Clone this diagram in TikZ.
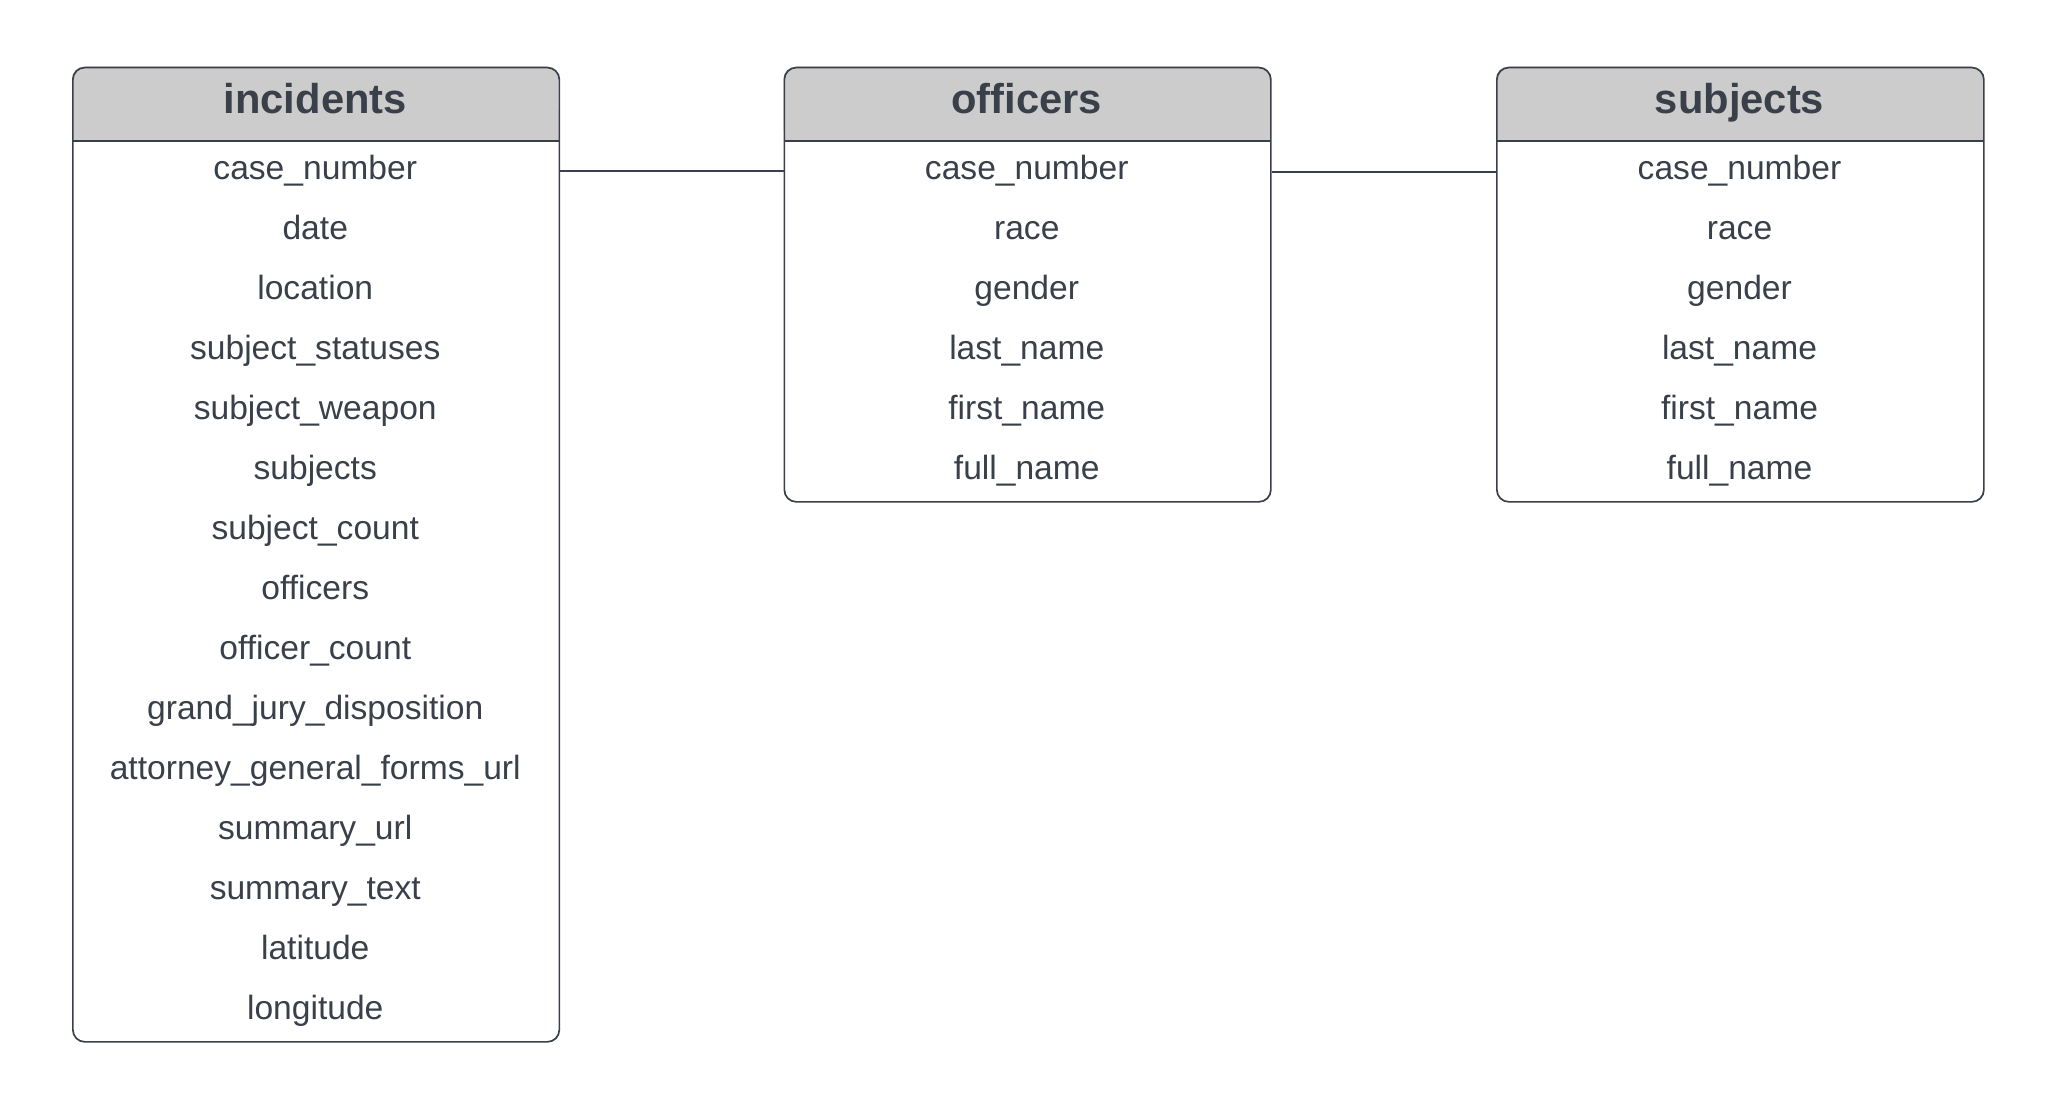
\documentclass[tikz,border=0pt]{standalone}
\usepackage{fontspec}
\setmainfont{Liberation Sans}
\definecolor{ink}{RGB}{58,64,73}
\definecolor{headgray}{RGB}{204,204,204}
\begin{document}
\begin{tikzpicture}[x=1pt,y=-1pt,
  tablebox/.style={draw=ink, line width=1.7pt, rounded corners=12pt, inner sep=0pt, anchor=north west},
  rowtext/.style={font=\fontsize{33.6}{40}\selectfont, text=ink, anchor=base, inner sep=0pt},
  headtext/.style={font=\fontsize{41.7}{48}\selectfont\bfseries, text=ink, anchor=base, inner sep=0pt},
  headline/.style={draw=ink, line width=1.7pt},
  conn/.style={draw=ink, line width=1.7pt}]
\useasboundingbox (0,0) rectangle (2051,1103);
% header fills
\foreach \xl/\xr in {72/558.5, 783.5/1270, 1496/1983}{
  \fill[headgray, rounded corners=12pt] (\xl,66.7) rectangle (\xr,141.3);
  \fill[headgray] (\xl,110) rectangle (\xr,141.3);
  \draw[headline] (\xl,141.3) -- (\xr,141.3);
}
% table boxes
\node[tablebox, minimum width=486.5pt, minimum height=974.3pt] (inc) at (72,66.7) {};
\node[tablebox, minimum width=486.5pt, minimum height=434.3pt] (off) at (783.5,66.7) {};
\node[tablebox, minimum width=487pt, minimum height=434.3pt] (sub) at (1496,66.7) {};
% headers
\node[headtext] (inc-h) at (315.25,113) {incidents};
\node[headtext] (off-h) at (1026.75,113) {officers};
\node[headtext] (sub-h) at (1739.5,113) {subjects};
% fields
\foreach \f [count=\i from 0] in {case\_number, date, location, subject\_statuses, subject\_weapon, subjects, subject\_count, officers, officer\_count, grand\_jury\_disposition, attorney\_general\_forms\_url, summary\_url, summary\_text, latitude, longitude}{
  \node[rowtext] (inc-\i) at (315.25,179.2+60*\i) {\f};
}
\foreach \f [count=\i from 0] in {case\_number, race, gender, last\_name, first\_name, full\_name}{
  \node[rowtext] (off-\i) at (1026.75,179.2+60*\i) {\f};
  \node[rowtext] (sub-\i) at (1739.5,179.2+60*\i) {\f};
}
% connectors
\draw[conn] ([yshift=5.5pt]inc-0.mid -| inc.east) -- ([yshift=5.5pt]off-0.mid -| off.west);
\draw[conn] ([yshift=4.3pt]off-0.mid -| off.east) -- ([yshift=4.3pt]sub-0.mid -| sub.west);
\end{tikzpicture}
\end{document}
